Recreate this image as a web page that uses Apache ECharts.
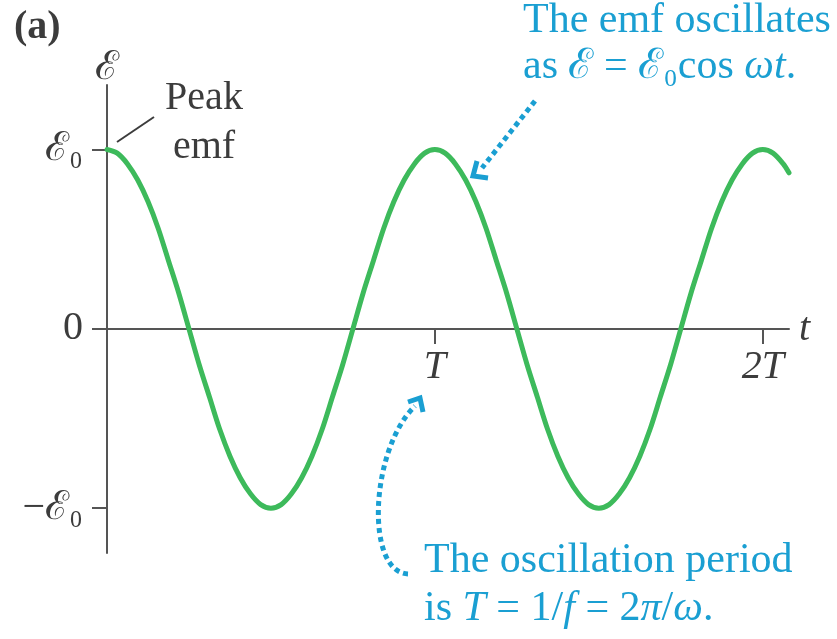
<!DOCTYPE html>
<html>
<head>
<meta charset="utf-8">
<script src="https://cdn.jsdelivr.net/npm/echarts@6/dist/echarts.min.js"></script>
<style>
  html, body { margin: 0; padding: 0; background: #fff; }
  #chart { width: 837px; height: 639px; }
</style>
</head>
<body>
<div id="chart"></div>
<script>
// time in units of the period T (every T/32)
const tValues = [
  0, 0.03125, 0.0625, 0.09375, 0.125, 0.15625, 0.1875, 0.21875, 0.25, 0.28125, 0.3125, 0.34375, 0.375, 0.40625, 0.4375, 0.46875,
  0.5, 0.53125, 0.5625, 0.59375, 0.625, 0.65625, 0.6875, 0.71875, 0.75, 0.78125, 0.8125, 0.84375, 0.875, 0.90625, 0.9375, 0.96875,
  1, 1.03125, 1.0625, 1.09375, 1.125, 1.15625, 1.1875, 1.21875, 1.25, 1.28125, 1.3125, 1.34375, 1.375, 1.40625, 1.4375, 1.46875,
  1.5, 1.53125, 1.5625, 1.59375, 1.625, 1.65625, 1.6875, 1.71875, 1.75, 1.78125, 1.8125, 1.84375, 1.875, 1.90625, 1.9375, 1.96875,
  2, 2.03125, 2.0625, 2.08
]
// emf in units of the peak emf
const emfValues = [
  1, 0.98, 0.92, 0.83, 0.71, 0.56, 0.38, 0.2, 0, -0.2, -0.38, -0.56, -0.71, -0.83, -0.92, -0.98,
  -1, -0.98, -0.92, -0.83, -0.71, -0.56, -0.38, -0.2, 0, 0.2, 0.38, 0.56, 0.71, 0.83, 0.92, 0.98,
  1, 0.98, 0.92, 0.83, 0.71, 0.56, 0.38, 0.2, 0, -0.2, -0.38, -0.56, -0.71, -0.83, -0.92, -0.98,
  -1, -0.98, -0.92, -0.83, -0.71, -0.56, -0.38, -0.2, 0, 0.2, 0.38, 0.56, 0.71, 0.83, 0.92, 0.98,
  1, 0.98, 0.92, 0.87
]
const xTicks = [1, 2]
const xTickLabels = ['T', '2T']
const yTicks = [-1, 0, 1]
const yTickLabels = ['−ℰ₀', '0', 'ℰ₀']

const serif = "'Liberation Serif', 'DejaVu Serif', serif"
const gray = '#3c3c3c'
const axisGray = '#555'
const blue = '#1a9fd2'
const green = '#3dba5b'

const chart = echarts.init(document.getElementById('chart'))

const option = {
  animation: false,
  grid: [
    { left: 107, top: 85, width: 682, height: 468 },
    // upper half only, so that its bottom x axis sits at emf = 0
    { left: 107, top: 85, width: 682, height: 244 }
  ],
  xAxis: [
    { gridIndex: 0, type: 'value', min: 0, max: 2.08, show: false },
    {
      gridIndex: 1, type: 'value', min: 0, max: 2.08, position: 'bottom',
      name: 't', nameLocation: 'end', nameGap: 10,
      nameTextStyle: { fontFamily: serif, fontStyle: 'italic', fontSize: 40, color: gray, verticalAlign: 'middle', padding: [6, 0, 0, 0] },
      axisLine: { onZero: false, lineStyle: { color: axisGray, width: 2 } },
      axisTick: { show: true, inside: false, length: 15, customValues: xTicks, lineStyle: { color: axisGray, width: 2 } },
      axisLabel: {
        customValues: xTicks, margin: 18,
        fontFamily: serif, fontStyle: 'italic', fontSize: 40, color: gray,
        formatter: v => xTickLabels[xTicks.indexOf(v)]
      },
      splitLine: { show: false }
    }
  ],
  yAxis: [
    {
      gridIndex: 0, type: 'value', min: -1.25, max: 1.36,
      name: 'ℰ', nameLocation: 'end', nameGap: -3,
      nameTextStyle: { fontFamily: serif, fontSize: 40, color: gray, align: 'center' },
      axisLine: { onZero: false, lineStyle: { color: axisGray, width: 2 } },
      axisTick: { show: true, inside: false, length: 15, customValues: yTicks, lineStyle: { color: axisGray, width: 2 } },
      axisLabel: {
        customValues: yTicks, margin: 24,
        fontFamily: serif, fontSize: 40, color: gray,
        formatter: v => yTickLabels[yTicks.indexOf(v)]
      },
      splitLine: { show: false }
    },
    { gridIndex: 1, type: 'value', min: 0, max: 1, show: false }
  ],
  series: [{
    type: 'line',
    xAxisIndex: 0, yAxisIndex: 0,
    data: tValues.map((t, i) => [t, emfValues[i]]),
    smooth: 0.3,
    showSymbol: false,
    lineStyle: { color: green, width: 5, cap: 'round', join: 'round' },
    z: 1
  }],
  graphic: [
    { type: 'text', left: 14, top: 8, style: { text: '(a)', font: 'bold 40px ' + serif, fill: gray } },
    // peak label
    { type: 'line', shape: { x1: 117, y1: 142, x2: 154, y2: 117 }, style: { stroke: gray, lineWidth: 2 } },
    { type: 'text', x: 204, y: 118, style: { text: 'Peak', font: '40px ' + serif, fill: gray, textAlign: 'center', textVerticalAlign: 'bottom' } },
    { type: 'text', x: 204, y: 167, style: { text: 'emf', font: '40px ' + serif, fill: gray, textAlign: 'center', textVerticalAlign: 'bottom' } },
    // top annotation
    { type: 'text', x: 523, y: 42, style: { text: 'The emf oscillates', font: '42px ' + serif, fill: blue, textVerticalAlign: 'bottom' } },
    { type: 'text', x: 523, y: 88, style: {
        text: '{n|as }{n|ℰ = ℰ₀}{n|cos }{i|ωt}{n|.}',
        textVerticalAlign: 'bottom',
        rich: {
          n: { fontFamily: serif, fontSize: 42, fill: blue },
          i: { fontFamily: serif, fontSize: 42, fontStyle: 'italic', fill: blue }
        }
      } },
    { type: 'line', shape: { x1: 535, y1: 101, x2: 482, y2: 168 }, style: { stroke: blue, lineWidth: 5, lineDash: [5, 4] } },
    { type: 'polyline', shape: { points: [[477, 161], [473, 176], [488, 178]] }, style: { stroke: blue, lineWidth: 5, fill: null } },
    // bottom annotation
    { type: 'text', x: 424, y: 582, style: { text: 'The oscillation period', font: '42px ' + serif, fill: blue, textVerticalAlign: 'bottom' } },
    { type: 'text', x: 424, y: 630, style: {
        text: '{n|is }{i|T}{n| = 1/}{i|f}{n| = 2}{i|π}{n|/}{i|ω}{n|.}',
        textVerticalAlign: 'bottom',
        rich: {
          n: { fontFamily: serif, fontSize: 42, fill: blue },
          i: { fontFamily: serif, fontSize: 42, fontStyle: 'italic', fill: blue }
        }
      } },
    { type: 'bezierCurve', shape: { x1: 408, y1: 574, cpx1: 365, cpy1: 572, cpx2: 370, cpy2: 450, x2: 415, y2: 406 },
      style: { stroke: blue, lineWidth: 5, lineDash: [5, 4], fill: null } },
    { type: 'polyline', shape: { points: [[408, 402], [420, 398], [423, 412]] }, style: { stroke: blue, lineWidth: 5, fill: null } }
  ]
}

chart.setOption(option)
</script>
</body>
</html>
